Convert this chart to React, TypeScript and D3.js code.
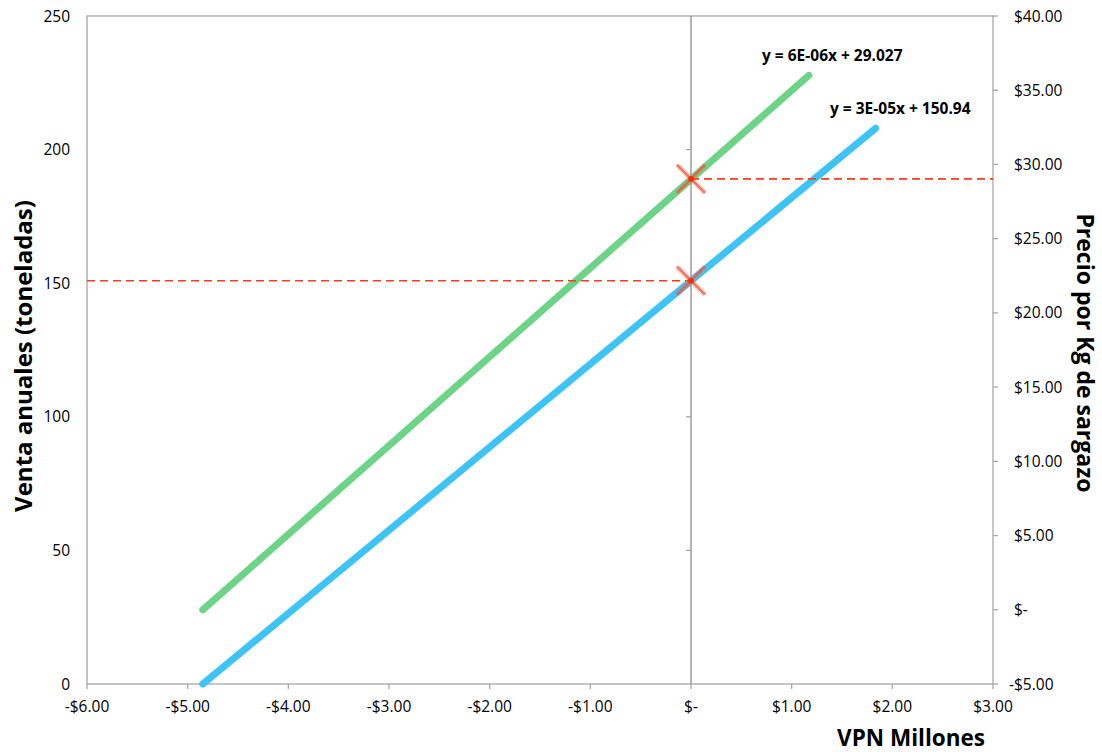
import React from "react";
import * as d3 from "d3";

const xTicks = [-6, -5, -4, -3, -2, -1, 0, 1, 2, 3];
const xTickLabels = ["-$6.00", "-$5.00", "-$4.00", "-$3.00", "-$2.00", "-$1.00", "$-", "$1.00", "$2.00", "$3.00"];
const yLeftTicks = [0, 50, 100, 150, 200, 250];
const yRightTicks = [-5, 0, 5, 10, 15, 20, 25, 30, 35, 40];
const yRightTickLabels = ["-$5.00", "$-", "$5.00", "$10.00", "$15.00", "$20.00", "$25.00", "$30.00", "$35.00", "$40.00"];

// Blue series: sales (left axis) vs VPN (millions)
const salesX = [-4.85, 1.835];
const salesY = [0, 208];
// Green series: price (right axis) vs VPN (millions)
const priceX = [-4.85, 1.17];
const priceY = [0, 36];
// Break-even points
const breakSales = 150.94;
const breakPrice = 29.027;

const W = 1102, H = 752;
const L = 87, R = 993, T = 16, B = 684;
const FONT = "'Open Sans', 'Liberation Sans', sans-serif";

export default function App() {
  const x = d3.scaleLinear().domain([-6, 3]).range([L, R]);
  const yL = d3.scaleLinear().domain([0, 250]).range([B, T]);
  const yR = d3.scaleLinear().domain([-5, 40]).range([B, T]);

  const lineL = d3.line<[number, number]>().x(d => x(d[0])).y(d => yL(d[1]));
  const lineR = d3.line<[number, number]>().x(d => x(d[0])).y(d => yR(d[1]));
  const salesPts = salesX.map((v, i) => [v, salesY[i]] as [number, number]);
  const pricePts = priceX.map((v, i) => [v, priceY[i]] as [number, number]);

  const axisGray = "#a6a6a6";
  const x0 = x(0);
  const markers = [[x0, yL(breakSales)], [x0, yR(breakPrice)]];

  return (
    <svg width={W} height={H} style={{ position: "absolute", left: 0, top: 0 }} fontFamily={FONT}>
      <rect width={W} height={H} fill="#fff" />
      {/* plot border */}
      <rect x={L} y={T} width={R - L} height={B - T} fill="none" stroke={axisGray} strokeWidth={1.3} />
      {/* x ticks */}
      {xTicks.map((t, i) => (
        <g key={"xt" + i}>
          <line x1={x(t)} x2={x(t)} y1={B} y2={B + 5} stroke={axisGray} strokeWidth={1.3} />
          <text x={x(t)} y={712} textAnchor="middle" fontSize={15.5} fill="#000">{xTickLabels[i]}</text>
        </g>
      ))}
      {/* left tick labels */}
      {yLeftTicks.map((t, i) => (
        <text key={"yl" + i} x={70} y={yL(t) + 5.5} textAnchor="end" fontSize={15.5} fill="#000">{t}</text>
      ))}
      {/* right ticks */}
      {yRightTicks.map((t, i) => (
        <g key={"yr" + i}>
          <line x1={R} x2={R + 5} y1={yR(t)} y2={yR(t)} stroke={axisGray} strokeWidth={1.3} />
          <text x={t < 0 ? 1009 : 1014} y={yR(t) + 5.5} textAnchor="start" fontSize={15.5} fill="#000">{yRightTickLabels[i]}</text>
        </g>
      ))}
      {/* series */}
      <path d={lineR(pricePts) || ""} stroke="#6cd387" strokeWidth={7} strokeLinecap="round" fill="none" />
      <path d={lineL(salesPts) || ""} stroke="#3ec3f6" strokeWidth={7} strokeLinecap="round" fill="none" />
      {/* vertical axis at x=0 */}
      <line x1={x0} x2={x0} y1={T} y2={B} stroke="#8c8c8c" strokeWidth={1.3} />
      {yLeftTicks.slice(1, -1).map((t, i) => (
        <line key={"vt" + i} x1={x0 - 5} x2={x0} y1={yL(t)} y2={yL(t)} stroke={axisGray} strokeWidth={1.3} />
      ))}
      {/* dashed guides */}
      <line x1={L} x2={x0} y1={yL(breakSales)} y2={yL(breakSales)} stroke="#ff3b1a" strokeWidth={1.6} strokeDasharray="8,5" />
      <line x1={x0} x2={R} y1={yR(breakPrice)} y2={yR(breakPrice)} stroke="#ff3b1a" strokeWidth={1.6} strokeDasharray="8,5" />
      {/* markers */}
      {markers.map(([mx, my], i) => {
        const d = `M${mx - 14},${my - 14}L${mx + 14},${my + 14}M${mx - 14},${my + 14}L${mx + 14},${my - 14}`;
        return (
          <g key={"m" + i}>
            <path d={d} stroke="#f07860" strokeOpacity={0.3} strokeWidth={5.5} />
            <path d={d} stroke="#ee5038" strokeOpacity={0.7} strokeWidth={2.5} />
            <circle cx={mx} cy={my} r={2.8} fill="#ff2a0a" />
          </g>
        );
      })}
      {/* equation labels */}
      <text x={762} y={61} fontSize={15.5} fontWeight="bold" fill="#000">y = 6E-06x + 29.027</text>
      <text x={830} y={114} fontSize={15.5} fontWeight="bold" fill="#000">y = 3E-05x + 150.94</text>
      {/* axis titles */}
      <text x={911} y={746} textAnchor="middle" fontSize={22.5} fontWeight="bold" fill="#000">VPN Millones</text>
      <text transform={`translate(32,356) rotate(-90)`} textAnchor="middle" fontSize={24} fontWeight="bold" fill="#000">Venta anuales (toneladas)</text>
      <text transform={`translate(1077,353) rotate(90)`} textAnchor="middle" fontSize={23} fontWeight="bold" fill="#000">Precio por Kg de sargazo</text>
    </svg>
  );
}
